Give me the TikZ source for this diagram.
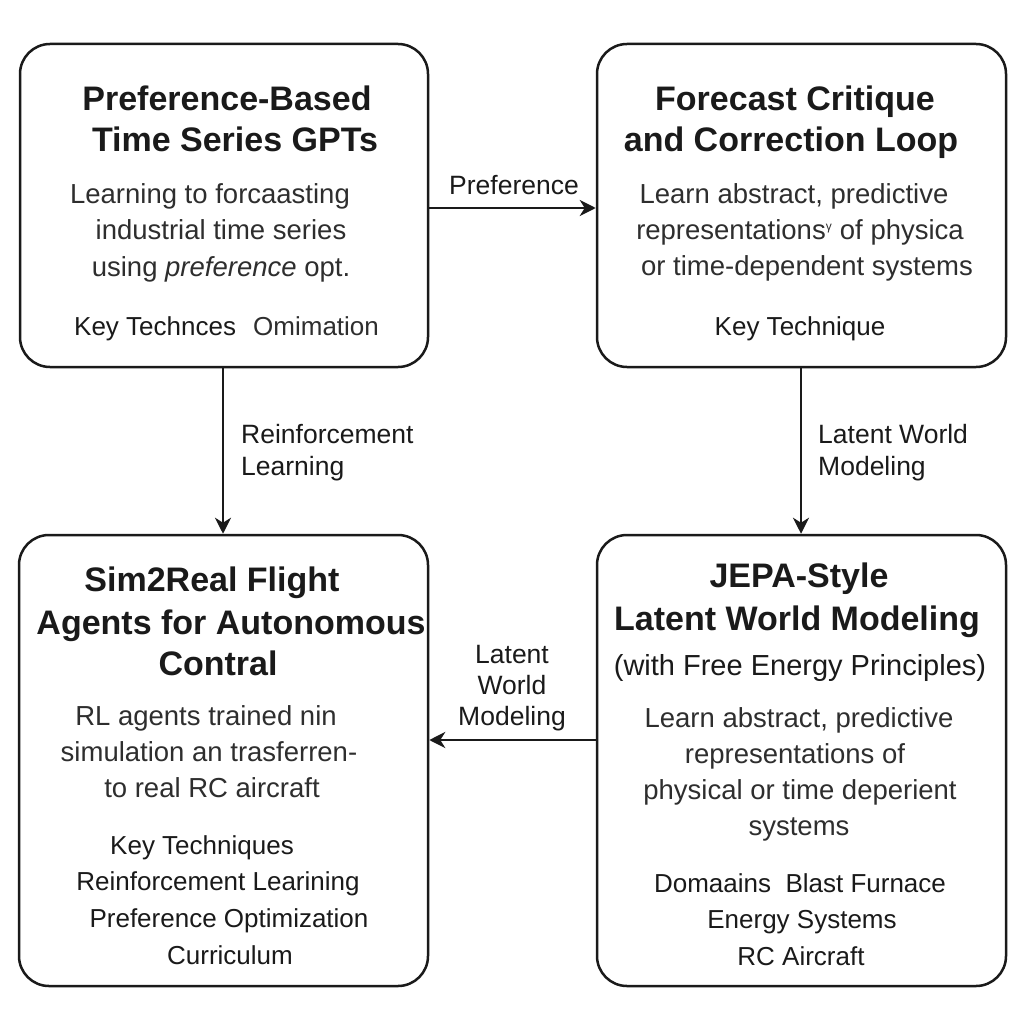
\documentclass[tikz,border=0pt]{standalone}
\usepackage{fontspec}
\setmainfont{Liberation Sans}
\usetikzlibrary{arrows.meta}
\definecolor{ink}{HTML}{1A1A1A}
\definecolor{body}{HTML}{2E2E2E}
\tikzset{
  box/.style={draw=ink, line width=2.5pt, rounded corners=30pt, fill=white, inner sep=0pt},
  ttl/.style={inner sep=0pt, text height=24.5pt, text depth=0pt, text=ink, font=\fontsize{34}{40}\selectfont\bfseries},
  sub/.style={inner sep=0pt, text height=20.9pt, text depth=0pt, text=ink, font=\fontsize{29}{34}\selectfont},
  bod/.style={inner sep=0pt, text height=19.8pt, text depth=0pt, text=body, font=\fontsize{27.5}{32}\selectfont},
  key/.style={inner sep=0pt, text height=18.7pt, text depth=0pt, text=ink, font=\fontsize{26}{30}\selectfont},
  lbl/.style={inner sep=0pt, text height=19pt, text depth=0pt, text=ink, font=\fontsize{26.5}{30}\selectfont},
  arr/.style={draw=ink, line width=2.8pt, -{Stealth[length=16pt,width=16pt,inset=5pt]}}
}
\begin{document}
\begin{tikzpicture}[x=1pt,y=-1pt]
\useasboundingbox[fill=white] (0,0) rectangle (1024,1024);
% boxes
\node[box, minimum width=408pt, minimum height=323pt] (b1) at (224,205.5) {};
\node[box, minimum width=409pt, minimum height=323pt] (b2) at (801.5,205.5) {};
\node[box, minimum width=409pt, minimum height=451pt] (b3) at (223.5,760.5) {};
\node[box, minimum width=409pt, minimum height=451pt] (b4) at (801.5,760.5) {};
% box 1
\node[ttl] (t1a) at (227,98) {Preference-Based};
\node[ttl] (t1b) at (235,139) {Time Series GPTs};
\node[bod] (d1a) at (210,194) {Learning to forcaasting};
\node[bod] (d1b) at (221,230) {industrial time series};
\node[bod] (d1c) at (221,267) {using \textit{preference} opt.};
\node[key, anchor=west] (k1a) at (74,326) {Key Technces};
\node[key, anchor=west, text=body] (k1b) at (253,326) {Omimation};
% box 2
\node[ttl] (t2a) at (795,98) {Forecast Critique};
\node[ttl] (t2b) at (791,139) {and Correction Loop};
\node[bod] (d2a) at (794,194) {Learn abstract, predictive};
\node[bod] (d2b) at (800,230) {representations\textsuperscript{\fontsize{12}{12}\selectfont γ} of physica};
\node[bod] (d2c) at (807,266) {or time-dependent systems};
\node[key] (k2) at (800,326) {Key Technique};
% box 3
\node[ttl] (t3a) at (212,579) {Sim2Real Flight};
\node[ttl] (t3b) at (231,622) {Agents for Autonomous};
\node[ttl] (t3c) at (218,663) {Contral};
\node[bod] (d3a) at (206,716) {RL agents trained nin};
\node[bod] (d3b) at (209,752) {simulation an trasferren-};
\node[bod] (d3c) at (212,788) {to real RC aircraft};
\node[key] (k3a) at (202,845) {Key Techniques};
\node[key] (k3b) at (218,881) {Reinforcement Learining};
\node[key] (k3c) at (229,918) {Preference Optimization};
\node[key] (k3d) at (230,955) {Curriculum};
% box 4
\node[ttl] (t4a) at (799,575) {JEPA-Style};
\node[ttl] (t4b) at (797,618) {Latent World Modeling};
\node[sub] (s4) at (800,665) {(with Free Energy Principles)};
\node[bod] (d4a) at (799,718) {Learn abstract, predictive};
\node[bod] (d4b) at (795,754) {representations of};
\node[bod] (d4c) at (800,790) {physical or time deperient};
\node[bod] (d4d) at (799,826) {systems};
\node[key] (k4a) at (800,883) {Domaains\ \ Blast Furnace};
\node[key] (k4b) at (802,919) {Energy Systems};
\node[key] (k4c) at (801,956) {RC Aircraft};
% connectors
\draw[arr] (b1.east |- 0,208) -- (b2.west |- 0,208);
\node[lbl] (l1) at (514,185) {Preference};
\draw[arr] (223,0 |- b1.south) -- (223,0 |- b3.north);
\node[lbl, anchor=west] (l2a) at (241,434) {Reinforcement};
\node[lbl, anchor=west] (l2b) at (241,466) {Learning};
\draw[arr] (801,0 |- b2.south) -- (801,0 |- b4.north);
\node[lbl, anchor=west] (l3a) at (818,434) {Latent World};
\node[lbl, anchor=west] (l3b) at (818,466) {Modeling};
\draw[arr] (b4.west |- 0,740) -- (b3.east |- 0,740);
\node[lbl] (l4a) at (512,654) {Latent};
\node[lbl] (l4b) at (512,685) {World};
\node[lbl] (l4c) at (512,716) {Modeling};
\end{tikzpicture}
\end{document}
